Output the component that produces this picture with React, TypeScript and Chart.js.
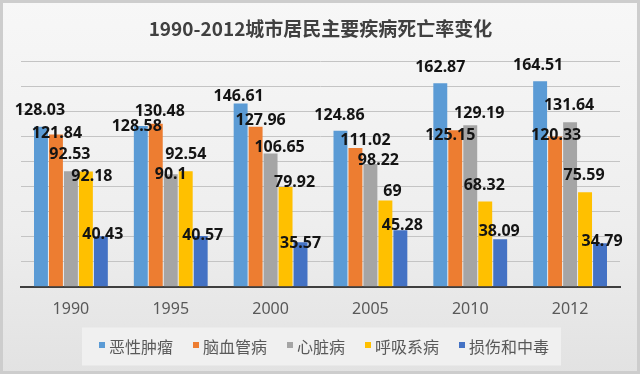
import React, { useEffect, useRef } from 'react';
import { Chart, registerables } from 'chart.js';

Chart.register(...registerables);

const categories = ['1990', '1995', '2000', '2005', '2010', '2012'];
const seriesNames = ['恶性肿瘤', '脑血管病', '心脏病', '呼吸系病', '损伤和中毒'];
const malignantTumor = [128.03, 128.58, 146.61, 124.86, 162.87, 164.51];
const cerebrovascular = [121.84, 130.48, 127.96, 111.02, 125.15, 120.33];
const heartDisease = [92.53, 90.1, 106.65, 98.22, 129.19, 131.64];
const respiratory = [92.18, 92.54, 79.92, 69, 68.32, 75.59];
const injuryPoisoning = [40.43, 40.57, 35.57, 45.28, 38.09, 34.79];
const yTickMax = 180;
const yTickStep = 20;

const seriesColors = ['#5B9BD5', '#ED7D31', '#A5A5A5', '#FFC000', '#4472C4'];

// label nudges (text placement relative to bar top centre)
const labelDx = [
  [-1, -4, -2, -1, 0, -2],
  [1, 4, 5, 10, -5, 1],
  [-1, 0, 9, 8, 9, -1],
  [6, 0, 9, 7, -1, -1],
  [2, 2, 0, 2, -1, 2],
];
const labelDy = [
  [-17, -1, -8, -16, -17, -17],
  [-2, -13, -8, -9, 4, -2],
  [-18, -1, -7, -5, -13, -18],
  [4, -18, -6, -10, -17, -18],
  [-3, -2, 0, -6, -9, -3],
];

const bgPlugin = {
  id: 'bgPlugin',
  beforeDraw(chart: any) {
    const { ctx, width, height } = chart;
    ctx.save();
    const g = ctx.createLinearGradient(0, 0, 0, height);
    g.addColorStop(0, '#f7f7f7');
    g.addColorStop(0.6, '#eeeeee');
    g.addColorStop(1, '#e2e2e2');
    ctx.fillStyle = g;
    ctx.fillRect(0, 0, width, height);
    ctx.strokeStyle = '#cdcdcd';
    ctx.lineWidth = 3;
    ctx.strokeRect(1.5, 1.5, width - 3, height - 3);
    ctx.restore();
  },
};

const valueLabelPlugin = {
  id: 'valueLabelPlugin',
  afterDatasetsDraw(chart: any) {
    const ctx = chart.ctx;
    ctx.save();
    ctx.font = 'bold 16px "Noto Sans", "Liberation Sans", sans-serif';
    ctx.fillStyle = '#141414';
    ctx.textAlign = 'center';
    ctx.textBaseline = 'alphabetic';
    chart.data.datasets.forEach((ds: any, i: number) => {
      const meta = chart.getDatasetMeta(i);
      meta.data.forEach((el: any, j: number) => {
        const v = ds.data[j];
        ctx.fillText(String(v), el.x + labelDx[i][j], el.y + labelDy[i][j] + 5.7);
      });
    });
    ctx.restore();
  },
};

const customLegendPlugin = {
  id: 'customLegendPlugin',
  afterDraw(chart: any) {
    const ctx = chart.ctx;
    ctx.save();
    ctx.font = '16px "Noto Sans CJK SC", sans-serif';
    const box = 6;
    const gap = 4;
    const itemGap = 20;
    const widths = chart.data.datasets.map((ds: any) => ctx.measureText(ds.label).width);
    const total =
      widths.reduce((a: number, b: number) => a + b, 0) +
      widths.length * (box + gap) +
      (widths.length - 1) * itemGap;
    const centerX = 324;
    const cy = 346.5;
    let x = centerX - total / 2;
    ctx.fillStyle = '#f0f0f0';
    ctx.fillRect(x - 17, cy - 19, total + 29, 38);
    ctx.textBaseline = 'middle';
    ctx.textAlign = 'left';
    chart.data.datasets.forEach((ds: any, i: number) => {
      ctx.fillStyle = ds.backgroundColor;
      ctx.fillRect(x, cy - 1.5 - box / 2, box, box);
      x += box + gap;
      ctx.fillStyle = '#595959';
      ctx.fillText(ds.label, x, cy);
      x += widths[i] + itemGap;
    });
    ctx.restore();
  },
};

export default function App() {
  const canvasRef = useRef<HTMLCanvasElement | null>(null);

  useEffect(() => {
    if (!canvasRef.current) return;
    const seriesData = [malignantTumor, cerebrovascular, heartDisease, respiratory, injuryPoisoning];
    const chart = new Chart(canvasRef.current, {
      type: 'bar',
      data: {
        labels: categories,
        datasets: seriesNames.map((name, i) => ({
          label: name,
          data: seriesData[i],
          backgroundColor: seriesColors[i],
          borderWidth: 0,
          barPercentage: 0.93,
          categoryPercentage: 0.75,
        })),
      },
      options: {
        responsive: false,
        animation: false,
        devicePixelRatio: 1,
        layout: { padding: { left: 21, right: 20, top: 0, bottom: 42 } },
        plugins: {
          legend: { display: false },
          tooltip: { enabled: false },
          title: {
            display: true,
            text: '1990-2012城市居民主要疾病死亡率变化',
            color: '#404040',
            font: { family: '"Noto Sans CJK SC", sans-serif', size: 19, weight: 'bold' },
            padding: { top: 17, bottom: 22 },
          },
        },
        scales: {
          x: {
            grid: { display: false, drawTicks: false },
            border: { display: true, color: '#3f3f3f', width: 2 },
            ticks: {
              color: '#595959',
              font: { family: '"Noto Sans", sans-serif', size: 16 },
              padding: 13,
            },
          },
          y: {
            min: 0,
            max: yTickMax,
            ticks: { display: false, stepSize: yTickStep },
            grid: { color: '#c4c4c4', lineWidth: 1, drawTicks: false },
            border: { display: false },
          },
        },
      },
      plugins: [bgPlugin, valueLabelPlugin, customLegendPlugin],
    });
    return () => chart.destroy();
  }, []);

  return (
    <div style={{ position: 'absolute', left: 0, top: 0, width: 640, height: 374 }}>
      <canvas ref={canvasRef} width={640} height={374} style={{ display: 'block' }} />
    </div>
  );
}
